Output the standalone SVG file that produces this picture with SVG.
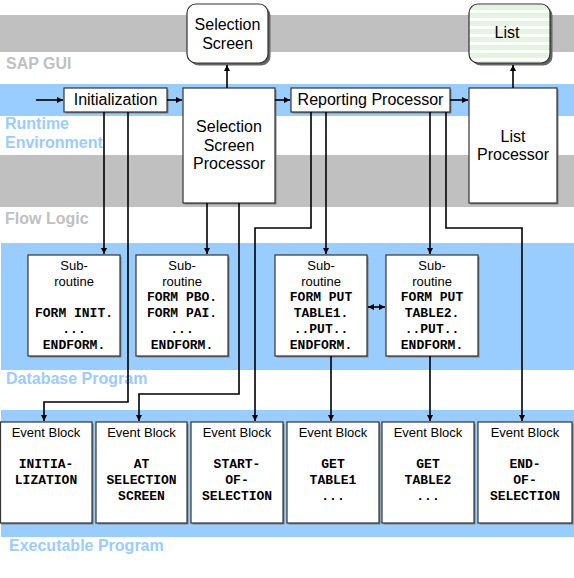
<svg xmlns="http://www.w3.org/2000/svg" width="574" height="578" viewBox="0 0 574 578">
<defs>
<marker id="ah" markerUnits="userSpaceOnUse" markerWidth="7" markerHeight="7" refX="6" refY="3" orient="auto-start-reverse">
<path d="M0,0 L6,3 L0,6 z" fill="#000"/>
</marker>
<pattern id="stripes" patternUnits="userSpaceOnUse" x="0" y="5" width="10" height="8">
<rect width="10" height="8" fill="#ffffff"/>
<rect width="10" height="5" fill="#e2f6df"/>
</pattern>
</defs>
<style>
.bg{fill:#c0c0c0}
.bb{fill:#99ccff}
.lg{font-family:"Liberation Sans",Arial,sans-serif;font-weight:bold;font-size:16px;fill:#c0c0c0}
.lb{font-family:"Liberation Sans",Arial,sans-serif;font-weight:bold;font-size:16px;fill:#99ccff}
.box{fill:#fff;stroke:#333;stroke-width:1.2}
.sh{fill:#808080}
.t16{font-family:"Liberation Sans",Arial,sans-serif;font-size:16px;fill:#000;text-anchor:middle}
.t13{font-family:"Liberation Sans",Arial,sans-serif;font-size:13px;fill:#000;text-anchor:middle}
.m{font-family:"Liberation Mono","Courier New",monospace;font-weight:bold;font-size:13px;fill:#000;text-anchor:middle}
.c{fill:none;stroke:#000;stroke-width:1.6}
</style>
<rect width="574" height="578" fill="#fff"/>
<!-- bands -->
<rect class="bg" x="0" y="15" width="574" height="37"/>
<rect class="bb" x="0" y="84" width="574" height="32"/>
<rect class="bg" x="0" y="155" width="574" height="52"/>
<rect class="bb" x="1" y="243" width="573" height="127"/>
<rect class="bb" x="1" y="410" width="573" height="127"/>
<text class="lg" x="6" y="69">SAP GUI</text>
<text class="lb" x="5" y="129">Runtime</text>
<text class="lb" x="5" y="148">Environment</text>
<text class="lg" x="5" y="224">Flow Logic</text>
<text class="lb" x="6" y="384">Database Program</text>
<text class="lb" x="9" y="551">Executable Program</text>

<g id="selection-screen">
<rect x="189.5" y="6.5" width="81" height="59" rx="9" fill="#666"/>
<rect x="187" y="4" width="81" height="59" rx="9" fill="#fff" stroke="#333" stroke-width="1.2"/>
<text class="t16" x="227.5" y="30">Selection</text>
<text class="t16" x="227.5" y="49">Screen</text>
</g>
<g id="list">
<rect x="471.5" y="6.5" width="81" height="59" rx="9" fill="#666"/>
<rect x="469" y="4" width="81" height="59" rx="9" fill="url(#stripes)" stroke="#333" stroke-width="1.2"/>
<text class="t16" x="507" y="38">List</text>
</g>
<g id="initialization">
<rect class="sh" x="65.5" y="89.5" width="103" height="24"/>
<rect class="box" x="64" y="88" width="103" height="24"/>
<text class="t16" x="115.5" y="105">Initialization</text>
</g>
<g id="selection-screen-processor">
<rect class="sh" x="184.5" y="89.5" width="92" height="115"/>
<rect class="box" x="183" y="88" width="92" height="115"/>
<text class="t16" x="229" y="132">Selection</text>
<text class="t16" x="229" y="151">Screen</text>
<text class="t16" x="229" y="169">Processor</text>
</g>
<g id="reporting-processor">
<rect class="sh" x="292.5" y="89.5" width="159" height="24"/>
<rect class="box" x="291" y="88" width="159" height="24"/>
<text class="t16" x="370.5" y="105">Reporting Processor</text>
</g>
<g id="list-processor">
<rect class="sh" x="470.5" y="89.5" width="88" height="115"/>
<rect class="box" x="469" y="88" width="88" height="115"/>
<text class="t16" x="513" y="142">List</text>
<text class="t16" x="513" y="160">Processor</text>
</g>

<g id="sub1">
<rect class="sh" x="29.5" y="256.5" width="92" height="101"/>
<rect class="box" x="28" y="255" width="92" height="101"/>
<text class="t13" x="74" y="270">Sub-</text>
<text class="t13" x="74" y="286">routine</text>
<text class="m" x="74" y="317">FORM INIT.</text>
<text class="m" x="74" y="333">...</text>
<text class="m" x="74" y="349">ENDFORM.</text>
</g>
<g id="sub2">
<rect class="sh" x="137.5" y="256.5" width="92" height="101"/>
<rect class="box" x="136" y="255" width="92" height="101"/>
<text class="t13" x="182" y="270">Sub-</text>
<text class="t13" x="182" y="286">routine</text>
<text class="m" x="182" y="301">FORM PBO.</text>
<text class="m" x="182" y="317">FORM PAI.</text>
<text class="m" x="182" y="333">...</text>
<text class="m" x="182" y="349">ENDFORM.</text>
</g>
<g id="sub3">
<rect class="sh" x="276.5" y="256.5" width="92" height="101"/>
<rect class="box" x="275" y="255" width="92" height="101"/>
<text class="t13" x="321" y="270">Sub-</text>
<text class="t13" x="321" y="286">routine</text>
<text class="m" x="321" y="301">FORM PUT</text>
<text class="m" x="321" y="317">TABLE1.</text>
<text class="m" x="321" y="333">..PUT..</text>
<text class="m" x="321" y="349">ENDFORM.</text>
</g>
<g id="sub4">
<rect class="sh" x="387.5" y="256.5" width="92" height="101"/>
<rect class="box" x="386" y="255" width="92" height="101"/>
<text class="t13" x="432" y="270">Sub-</text>
<text class="t13" x="432" y="286">routine</text>
<text class="m" x="432" y="301">FORM PUT</text>
<text class="m" x="432" y="317">TABLE2.</text>
<text class="m" x="432" y="333">..PUT..</text>
<text class="m" x="432" y="349">ENDFORM.</text>
</g>

<g id="eb1">
<rect class="sh" x="1.5" y="423.5" width="92" height="101"/>
<rect class="box" x="0.5" y="422" width="91.5" height="101"/>
<text class="t13" x="46" y="437">Event Block</text>
<text class="m" x="46" y="468">INITIA-</text>
<text class="m" x="46" y="484">LIZATION</text>
</g>
<g id="eb2">
<rect class="sh" x="97.5" y="423.5" width="91" height="101"/>
<rect class="box" x="96" y="422" width="91" height="101"/>
<text class="t13" x="141.5" y="437">Event Block</text>
<text class="m" x="141.5" y="468">AT</text>
<text class="m" x="141.5" y="484">SELECTION</text>
<text class="m" x="141.5" y="500">SCREEN</text>
</g>
<g id="eb3">
<rect class="sh" x="192.5" y="423.5" width="92" height="101"/>
<rect class="box" x="191" y="422" width="92" height="101"/>
<text class="t13" x="237" y="437">Event Block</text>
<text class="m" x="237" y="468">START-</text>
<text class="m" x="237" y="484">OF-</text>
<text class="m" x="237" y="500">SELECTION</text>
</g>
<g id="eb4">
<rect class="sh" x="288.5" y="423.5" width="92" height="101"/>
<rect class="box" x="287" y="422" width="92" height="101"/>
<text class="t13" x="333" y="437">Event Block</text>
<text class="m" x="333" y="468">GET</text>
<text class="m" x="333" y="484">TABLE1</text>
<text class="m" x="333" y="500">...</text>
</g>
<g id="eb5">
<rect class="sh" x="383.5" y="423.5" width="92" height="101"/>
<rect class="box" x="382" y="422" width="92" height="101"/>
<text class="t13" x="428" y="437">Event Block</text>
<text class="m" x="428" y="468">GET</text>
<text class="m" x="428" y="484">TABLE2</text>
<text class="m" x="428" y="500">...</text>
</g>
<g id="eb6">
<rect class="sh" x="479.5" y="423.5" width="94" height="101"/>
<rect class="box" x="478" y="422" width="94" height="101"/>
<text class="t13" x="525" y="437">Event Block</text>
<text class="m" x="525" y="468">END-</text>
<text class="m" x="525" y="484">OF-</text>
<text class="m" x="525" y="500">SELECTION</text>
</g>

<g id="connectors">
<path class="c" d="M36,100 H63" marker-end="url(#ah)"/>
<path class="c" d="M167,100 H182" marker-end="url(#ah)"/>
<path class="c" d="M275,100 H290" marker-end="url(#ah)"/>
<path class="c" d="M450,100 H468" marker-end="url(#ah)"/>
<path class="c" d="M227,88 V65" marker-end="url(#ah)"/>
<path class="c" d="M513,88 V65" marker-end="url(#ah)"/>
<path class="c" d="M104,112 V254" marker-end="url(#ah)"/>
<path class="c" d="M128,112 V402 H44 V421" marker-end="url(#ah)"/>
<path class="c" d="M207,203 V254" marker-end="url(#ah)"/>
<path class="c" d="M239,203 V394 H139 V421" marker-end="url(#ah)"/>
<path class="c" d="M311,112 V228 H255 V421" marker-end="url(#ah)"/>
<path class="c" d="M326,112 V254" marker-end="url(#ah)"/>
<path class="c" d="M430,112 V254" marker-end="url(#ah)"/>
<path class="c" d="M446,112 V228 H522 V421" marker-end="url(#ah)"/>
<path class="c" d="M331,356 V421" marker-end="url(#ah)"/>
<path class="c" d="M430,356 V421" marker-end="url(#ah)"/>
<path class="c" d="M368,307 H385" marker-start="url(#ah)" marker-end="url(#ah)"/>
</g>
</svg>
